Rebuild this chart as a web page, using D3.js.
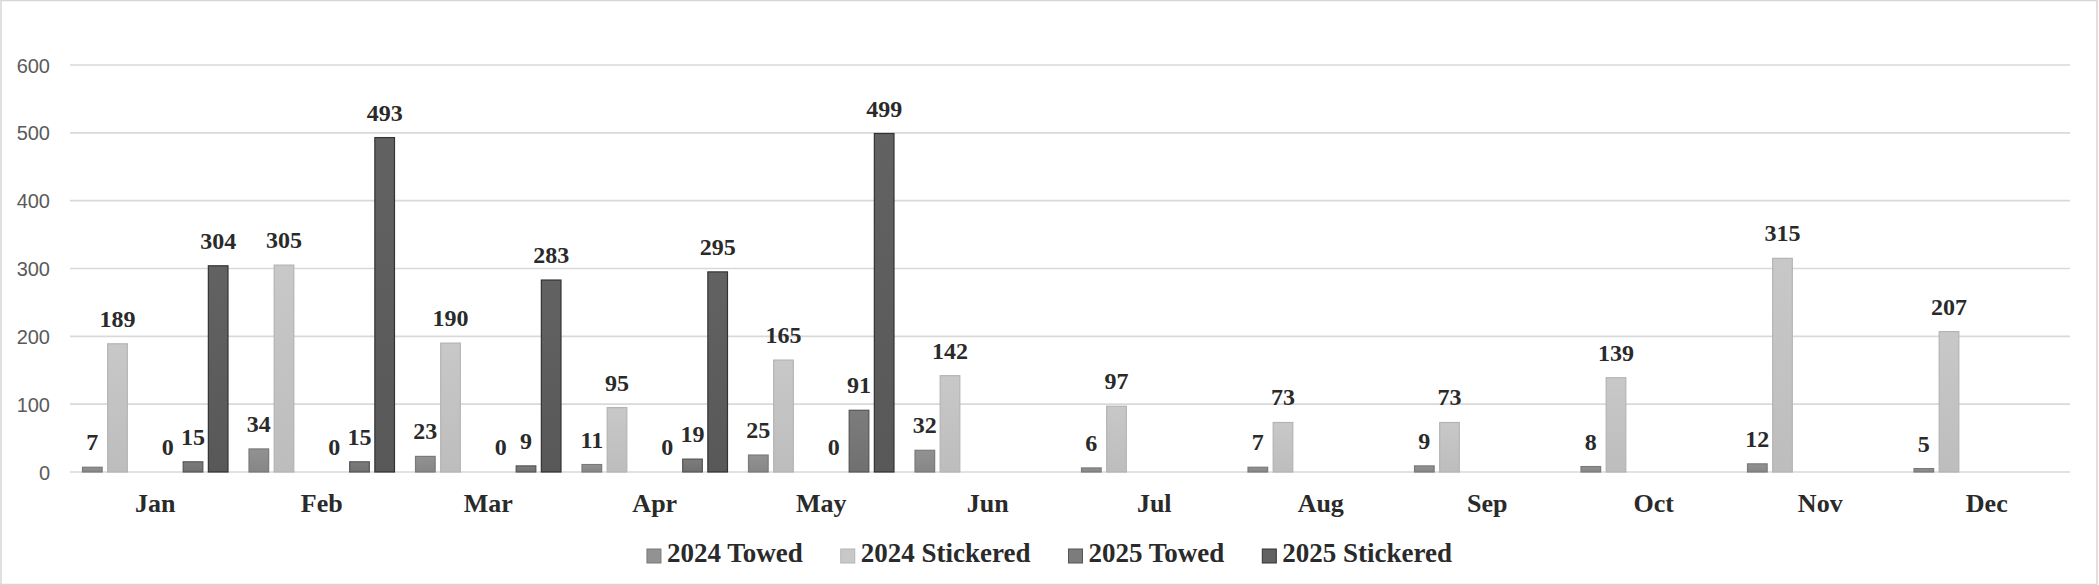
<!DOCTYPE html>
<html>
<head>
<meta charset="utf-8">
<script src="https://cdn.jsdelivr.net/npm/d3@7"></script>
<style>
  html, body { margin: 0; padding: 0; background: #ffffff; }
  svg { display: block; }
</style>
</head>
<body>
<svg id="chart" width="2099" height="585"></svg>
<script>
// ---- data ----
const months = ["Jan","Feb","Mar","Apr","May","Jun","Jul","Aug","Sep","Oct","Nov","Dec"];
const towed2024     = [7, 34, 23, 11, 25, 32, 6, 7, 9, 8, 12, 5];
const stickered2024 = [189, 305, 190, 95, 165, 142, 97, 73, 73, 139, 315, 207];
const blankSeries   = [null, null, null, null, null, null, null, null, null, null, null, null];
const zeroSeries    = [0, 0, 0, 0, 0, null, null, null, null, null, null, null];
const towed2025     = [15, 15, 9, 19, 91, null, null, null, null, null, null, null];
const stickered2025 = [304, 493, 283, 295, 499, null, null, null, null, null, null, null];
const yTicks = [0, 100, 200, 300, 400, 500, 600];

const seriesNames = ["2024 Towed", "2024 Stickered", "blank", "zero", "2025 Towed", "2025 Stickered"];
const seriesValues = [towed2024, stickered2024, blankSeries, zeroSeries, towed2025, stickered2025];
const legendNames = ["2024 Towed", "2024 Stickered", "2025 Towed", "2025 Stickered"];

const style = {
  "2024 Towed":     { top: "#929292", bottom: "#868686", stroke: "#7a7a7a" },
  "2024 Stickered": { top: "#c8c8c8", bottom: "#bdbdbd", stroke: "#b4b4b4" },
  "blank":          { top: "#ffffff", bottom: "#ffffff", stroke: "none" },
  "zero":           { top: "#7a7a7a", bottom: "#7a7a7a", stroke: "#5a5a5a" },
  "2025 Towed":     { top: "#7c7c7c", bottom: "#707070", stroke: "#555555" },
  "2025 Stickered": { top: "#626262", bottom: "#585858", stroke: "#333333" }
};

// ---- layout ----
const W = 2099, H = 585;
const plotL = 70, plotR = 2070, yBase = 472, yTop = 65;

const svg = d3.select("#chart");

// outer border
svg.append("rect").attr("x", 1).attr("y", 0.5).attr("width", W - 3).attr("height", H - 1)
  .attr("fill", "none").attr("stroke", "#d6d6d6").attr("stroke-width", 1.5);

const y = d3.scaleLinear().domain([0, 600]).range([yBase, yTop]);
const x0 = d3.scaleBand().domain(months).range([plotL + 1, plotR + 1])
  .paddingInner(0.093).paddingOuter(0.0525);
const x1 = d3.scaleBand().domain(seriesNames).range([0, x0.bandwidth()])
  .paddingInner(0.22).paddingOuter(0.11);

// gradients
const defs = svg.append("defs");
seriesNames.forEach((s, i) => {
  const g = defs.append("linearGradient").attr("id", "grad" + i)
    .attr("x1", 0).attr("y1", 0).attr("x2", 0).attr("y2", 1);
  g.append("stop").attr("offset", "0%").attr("stop-color", style[s].top);
  g.append("stop").attr("offset", "100%").attr("stop-color", style[s].bottom);
});

// gridlines
svg.append("g").selectAll("line").data(yTicks).join("line")
  .attr("x1", plotL).attr("x2", plotR)
  .attr("y1", d => y(d)).attr("y2", d => y(d))
  .attr("stroke", "#d9d9d9").attr("stroke-width", 1.6);

// y axis labels
const yAxis = d3.axisLeft(y).tickValues(yTicks).tickSize(0).tickPadding(0);
const yg = svg.append("g").attr("transform", `translate(50,0)`).call(yAxis);
yg.select(".domain").remove();
yg.selectAll("text")
  .attr("font-family", "'Liberation Sans', Arial, sans-serif")
  .attr("font-size", 20).attr("fill", "#5a5a5a").attr("dy", "0.35em");

// bars
const groups = svg.append("g").selectAll("g").data(months).join("g")
  .attr("transform", d => `translate(${x0(d)},0)`);

const cells = groups.selectAll("g.cell")
  .data((m, mi) => seriesNames.map((s, si) => ({ s, si, v: seriesValues[si][mi] })))
  .join("g").attr("class", "cell");

cells.filter(d => d.v !== null && d.v > 0).append("rect")
  .attr("x", d => x1(d.s))
  .attr("width", x1.bandwidth())
  .attr("y", d => y(d.v))
  .attr("height", d => y(0) - y(d.v))
  .attr("fill", d => `url(#grad${d.si})`)
  .attr("stroke", d => style[d.s].stroke)
  .attr("stroke-width", 1.2);

cells.filter(d => d.v !== null).append("text")
  .attr("x", d => x1(d.s) + x1.bandwidth() / 2)
  .attr("y", d => y(d.v) - 17)
  .attr("text-anchor", "middle")
  .attr("font-family", "'Liberation Serif', 'Times New Roman', serif")
  .attr("font-weight", "bold")
  .attr("font-size", 24)
  .attr("fill", "#2a2a2a")
  .text(d => d.v);

// x axis labels
const xAxis = d3.axisBottom(x0).tickSize(0).tickPadding(0);
const xg = svg.append("g").attr("transform", `translate(0,${yBase})`).call(xAxis);
xg.select(".domain").remove();
xg.selectAll("text")
  .attr("font-family", "'Liberation Serif', 'Times New Roman', serif")
  .attr("font-weight", "bold").attr("font-size", 26).attr("fill", "#2a2a2a")
  .attr("y", 40).attr("dy", 0);

// legend
const legend = svg.append("g");
const items = legend.selectAll("g").data(legendNames).join("g");
items.append("rect").attr("width", 14).attr("height", 14).attr("y", -13)
  .attr("fill", d => style[d].top).attr("stroke", d => style[d].stroke).attr("stroke-width", 1);
items.append("text").attr("x", 20).attr("y", 0)
  .attr("font-family", "'Liberation Serif', 'Times New Roman', serif")
  .attr("font-weight", "bold").attr("font-size", 27).attr("fill", "#2a2a2a")
  .text(d => d);
let offs = [], cur = 0;
const gap = 38;
items.each(function() {
  const w = this.getBBox().width;
  offs.push(cur);
  cur += w + gap;
});
const total = cur - gap;
const startX = W / 2 - total / 2;
items.attr("transform", (d, i) => `translate(${startX + offs[i]},562)`);
</script>
</body>
</html>
